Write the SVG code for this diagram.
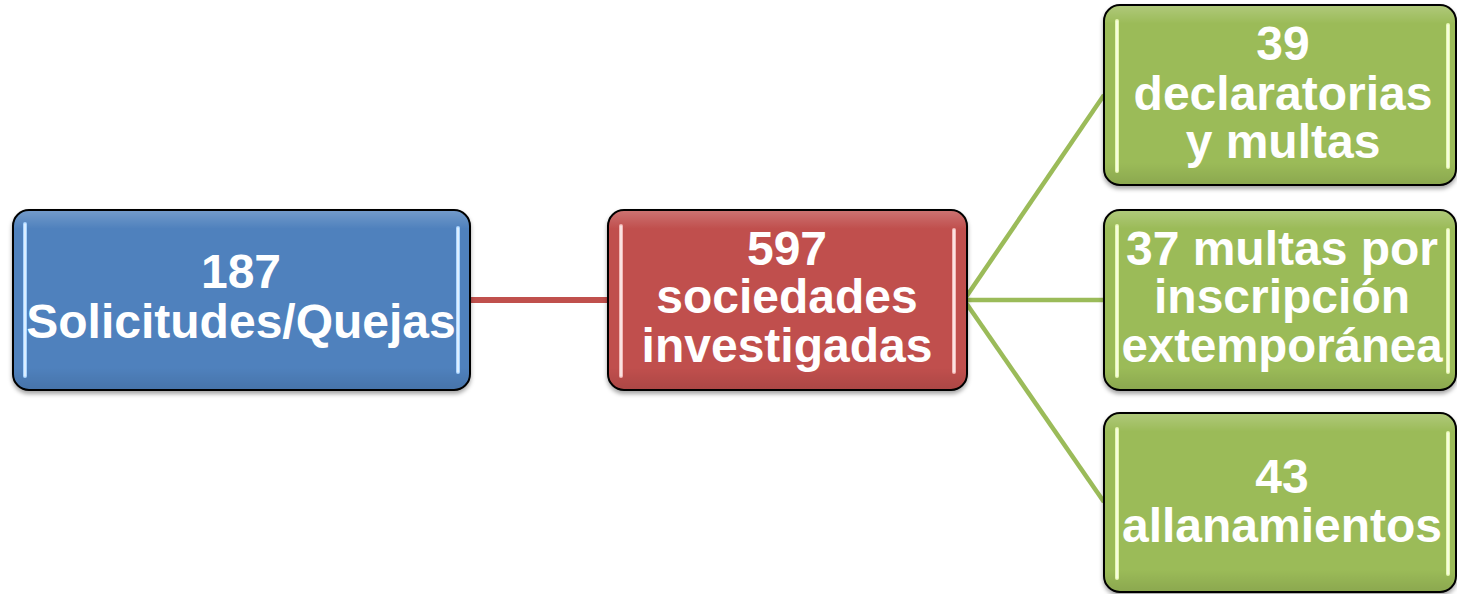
<svg xmlns="http://www.w3.org/2000/svg" width="1457" height="594" viewBox="0 0 1457 594">
<defs>
<style>
.box{stroke:#000;stroke-width:2}
.t{font-family:"Liberation Sans",Arial,sans-serif;font-weight:bold;font-size:48px;fill:#fff;text-anchor:middle}
.hl{fill:none;stroke-width:4;stroke-linecap:round}
.hlc{fill:none;stroke:#fff;stroke-width:1.5;stroke-linecap:round;stroke-opacity:0.8}
.b .hl{stroke:#a9d4ff}
.r .hl{stroke:#f2b8b6}
.g .hl{stroke:#e6f7b0}
.gloss{fill:url(#gloss);stroke:none}
.edge{stroke-linecap:butt;fill:none}
</style>
<linearGradient id="gloss" x1="0" y1="0" x2="0" y2="1">
<stop offset="0" stop-color="#fff" stop-opacity="0.2"/>
<stop offset="0.1" stop-color="#fff" stop-opacity="0"/>
<stop offset="0.88" stop-color="#000" stop-opacity="0"/>
<stop offset="1" stop-color="#000" stop-opacity="0.1"/>
</linearGradient>
<filter id="sh" x="-5%" y="-5%" width="110%" height="115%">
<feDropShadow dx="0" dy="3" stdDeviation="2" flood-color="#000" flood-opacity="0.35"/>
</filter>
</defs>
<rect width="1457" height="594" fill="#fff"/>
<g id="connectors">
<line class="edge" x1="470" y1="300" x2="608" y2="300" stroke="#C0504D" stroke-width="6"/>
<line class="edge" x1="964" y1="300" x2="1104" y2="95" stroke="#9BBB59" stroke-width="4.5"/>
<line class="edge" x1="964" y1="300" x2="1104" y2="300" stroke="#9BBB59" stroke-width="4.5"/>
<line class="edge" x1="964" y1="300" x2="1104" y2="502" stroke="#9BBB59" stroke-width="4.5"/>
</g>
<g id="node-solicitudes" class="b">
<rect class="box" x="13" y="210" width="457" height="180" rx="16" fill="#4F81BD" filter="url(#sh)"/>
<rect class="gloss" x="14" y="211" width="455" height="178" rx="15"/>
<line class="hl" x1="25" y1="224" x2="25" y2="376"/>
<line class="hlc" x1="25" y1="224" x2="25" y2="376"/>
<line class="hl" x1="458" y1="228" x2="458" y2="372"/>
<line class="hlc" x1="458" y1="228" x2="458" y2="372"/>
<text class="t" x="241" y="288">187</text>
<text class="t" x="241" y="338">Solicitudes/Quejas</text>
</g>
<g id="node-sociedades" class="r">
<rect class="box" x="608" y="210" width="359" height="180" rx="16" fill="#C0504D" filter="url(#sh)"/>
<rect class="gloss" x="609" y="211" width="357" height="178" rx="15"/>
<line class="hl" x1="621" y1="226" x2="621" y2="376"/>
<line class="hlc" x1="621" y1="226" x2="621" y2="376"/>
<line class="hl" x1="954" y1="230" x2="954" y2="372"/>
<line class="hlc" x1="954" y1="230" x2="954" y2="372"/>
<text class="t" x="787" y="265">597</text>
<text class="t" x="787" y="313">sociedades</text>
<text class="t" x="787" y="362">investigadas</text>
</g>
<g id="node-declaratorias" class="g">
<rect class="box" x="1104" y="5" width="352" height="180" rx="16" fill="#9BBB59" filter="url(#sh)"/>
<rect class="gloss" x="1105" y="6" width="350" height="178" rx="15"/>
<line class="hl" x1="1117" y1="21" x2="1117" y2="171"/>
<line class="hlc" x1="1117" y1="21" x2="1117" y2="171"/>
<line class="hl" x1="1448" y1="25" x2="1448" y2="167"/>
<line class="hlc" x1="1448" y1="25" x2="1448" y2="167"/>
<text class="t" x="1283" y="60">39</text>
<text class="t" x="1283" y="110">declaratorias</text>
<text class="t" x="1283" y="158">y multas</text>
</g>
<g id="node-multas" class="g">
<rect class="box" x="1104" y="210" width="352" height="180" rx="16" fill="#9BBB59" filter="url(#sh)"/>
<rect class="gloss" x="1105" y="211" width="350" height="178" rx="15"/>
<line class="hl" x1="1117" y1="226" x2="1117" y2="376"/>
<line class="hlc" x1="1117" y1="226" x2="1117" y2="376"/>
<line class="hl" x1="1448" y1="230" x2="1448" y2="372"/>
<line class="hlc" x1="1448" y1="230" x2="1448" y2="372"/>
<text class="t" x="1282" y="265">37 multas por</text>
<text class="t" x="1282" y="313">inscripción</text>
<text class="t" x="1282" y="362" textLength="321" lengthAdjust="spacingAndGlyphs">extemporánea</text>
</g>
<g id="node-allanamientos" class="g">
<rect class="box" x="1104" y="413" width="352" height="179" rx="16" fill="#9BBB59" filter="url(#sh)"/>
<rect class="gloss" x="1105" y="414" width="350" height="177" rx="15"/>
<line class="hl" x1="1117" y1="429" x2="1117" y2="578"/>
<line class="hlc" x1="1117" y1="429" x2="1117" y2="578"/>
<line class="hl" x1="1448" y1="433" x2="1448" y2="574"/>
<line class="hlc" x1="1448" y1="433" x2="1448" y2="574"/>
<text class="t" x="1282" y="493">43</text>
<text class="t" x="1282" y="542">allanamientos</text>
</g>
</svg>
